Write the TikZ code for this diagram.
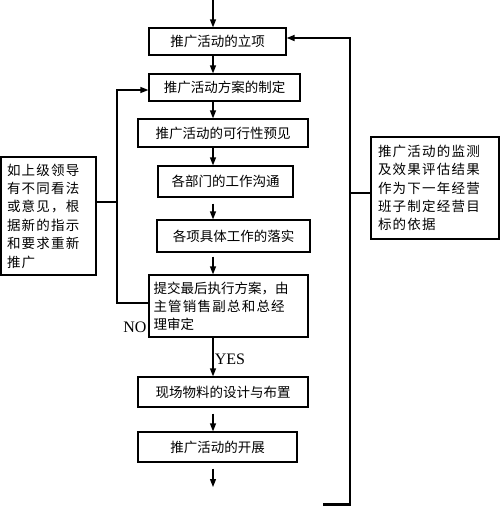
\documentclass[tikz,border=0pt]{standalone}
\usepackage{fontspec}
\setmainfont{Liberation Serif}
\newfontfamily\cjk{Noto Sans CJK SC}
\newfontfamily\cjkwide[LetterSpace=9]{Noto Sans CJK SC}
\usetikzlibrary{arrows.meta}
\begin{document}
\begin{tikzpicture}[x=1pt,y=-1pt,
  box/.style={draw,line width=1.3pt,inner sep=0pt,align=center,font=\cjk\fontsize{13.5}{18}\selectfont},
  note/.style={draw,line width=1.3pt,inner xsep=0pt,inner ysep=0pt,align=left,font=\cjkwide\fontsize{13.5}{18.4}\selectfont},
  conn/.style={line width=1.3pt},
  arr/.style={line width=1.3pt,-{Triangle[length=8pt,width=6pt]}},
  lab/.style={font=\fontsize{16}{16}\selectfont,inner sep=0pt}]
\useasboundingbox (0,0) rectangle (500,506);
\fill[white] (0,0) rectangle (500,506);
% main boxes
\node[box,minimum width=137pt,minimum height=27pt] (b1) at (217.5,41.5) {推广活动的立项};
\node[box,minimum width=151pt,minimum height=27pt] (b2) at (224.5,87.5) {推广活动方案的制定};
\node[box,minimum width=170pt,minimum height=28pt] (b3) at (223,133) {推广活动的可行性预见};
\node[box,minimum width=135pt,minimum height=31pt] (b4) at (225.5,181.5) {各部门的工作沟通};
\node[box,minimum width=153pt,minimum height=32pt] (b5) at (233.5,236) {各项具体工作的落实};
\node[box,minimum width=159pt,minimum height=62pt,text width=150pt,align=left] (b6) at (228.5,306)
  {提交最后执行方案，由\\{\cjkwide 主管销售副总和总经}\\理审定};
\node[box,minimum width=170pt,minimum height=30pt] (b7) at (223,392) {现场物料的设计与布置};
\node[box,minimum width=159pt,minimum height=30pt] (b8) at (217.5,447) {推广活动的开展};
% side notes
\node[note,minimum width=95pt,minimum height=118pt,text width=83pt] (nl) at (48.5,216)
  {如上级领导\\有不同看法\\或意见，根\\据新的指示\\和要求重新\\推广};
\node[note,minimum width=128pt,minimum height=102pt,text width=114pt] (nr) at (435,188)
  {推广活动的监测\\及效果评估结果\\作为下一年经营\\班子制定经营目\\标的依据};
% axis and free ends
\coordinate (ax) at (213,0);
\coordinate (top) at (213,0);
\coordinate (bot) at (213,487);
\coordinate (rb) at (350,506);
\coordinate (lx) at (117,0);
% main arrows
\draw[arr] (top) -- (b1.north -| ax);
\draw[arr] (b1.south -| ax) -- (b2.north -| ax);
\draw[arr] (b2.south -| ax) -- (b3.north -| ax);
\draw[arr] (b3.south -| ax) -- (b4.north -| ax);
\draw[arr,shorten <=6pt] (b4.south -| ax) -- (b5.north -| ax);
\draw[arr,shorten <=4pt] (b5.south -| ax) -- (b6.north -| ax);
\draw[arr] (b6.south -| ax) -- (b7.north -| ax);
\draw[arr,shorten <=6pt] (b7.south -| ax) -- (b8.north -| ax);
\draw[arr,shorten <=6pt] (b8.south -| ax) -- (bot);
% right feedback loop
\draw[arr,line width=1.6pt] (rb) -- (rb |- 0,38) -- ([yshift=3.5pt]b1.east);
\draw[conn] (nr.west) ++(0,5) -- (rb |- 0,193);
\draw[line width=3pt] (323,504.5) -- (rb |- 0,504.5);
% left NO loop
\draw[arr] ([yshift=3pt]b6.west) -| (lx |- 0,90) -- ([yshift=-2.5pt]b2.west);
\draw[conn] ([yshift=14pt]nl.east) -- (lx |- 0,202);
% labels
\node[lab] (no) at (135,327) {NO};
\node[lab] (yes) at (230,359) {YES};
\end{tikzpicture}
\end{document}
